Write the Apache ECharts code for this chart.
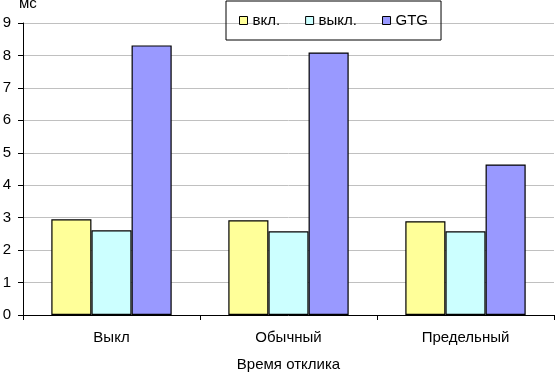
<!DOCTYPE html>
<html><head><meta charset="utf-8">
<script src="https://cdn.jsdelivr.net/npm/echarts@6/dist/echarts.min.js"></script>
<style>html,body{margin:0;padding:0;background:#fff}#c{width:555px;height:374px}</style>
</head><body><div id="c"></div>
<script>
var categories = ['Выкл', 'Обычный', 'Предельный'];
var seriesNames = ['вкл.', 'выкл.', 'GTG'];
var vkl = [2.95, 2.92, 2.89];
var vykl = [2.61, 2.58, 2.58];
var gtg = [8.31, 8.09, 4.64];
var yTicks = [0, 1, 2, 3, 4, 5, 6, 7, 8, 9];
var yUnit = 'мс';
var xTitle = 'Время отклика';

var font = 'Arial, "Liberation Sans", sans-serif';
var colors = ['#FFFF99', '#CCFFFF', '#9999FF'];
var dataSets = [vkl, vykl, gtg];
var el = document.getElementById('c');
var chart = echarts.init(el, null, {renderer: 'canvas'});
chart.setOption({
  animation: false,
  textStyle: {fontFamily: font},
  graphic: [{type: 'text', left: 19, top: -4, style: {text: yUnit, font: '15px ' + font, fill: '#000'}}],
  legend: {
    left: 226, top: 1,
    padding: [12, 13, 12, 13],
    borderColor: '#000', borderWidth: 1,
    icon: 'rect',
    itemWidth: 8, itemHeight: 8, itemGap: 25,
    itemStyle: {borderColor: '#000', borderWidth: 1},
    textStyle: {fontSize: 15, color: '#000', fontFamily: font},
    data: seriesNames
  },
  grid: {left: 23, right: 1, top: 23, height: 292, outerBoundsMode: 'none', containLabel: false},
  xAxis: {
    type: 'category', data: categories,
    axisLine: {lineStyle: {color: '#000', width: 1}},
    axisTick: {show: true, length: 5, lineStyle: {color: '#000'}},
    axisLabel: {color: '#000', fontSize: 15, margin: 15, fontFamily: font},
    name: xTitle, nameLocation: 'middle', nameGap: 42,
    nameTextStyle: {color: '#000', fontSize: 15, fontFamily: font}
  },
  yAxis: {
    type: 'value', min: yTicks[0], max: yTicks[yTicks.length - 1], interval: 1,
    axisLine: {show: true, lineStyle: {color: '#000', width: 1}},
    axisTick: {show: true, length: 5, lineStyle: {color: '#000'}},
    axisLabel: {color: '#000', fontSize: 15, margin: 12, fontFamily: font},
    splitLine: {lineStyle: {color: '#C0C0C0', width: 1}}
  },
  series: seriesNames.map(function (n, i) {
    return {
      name: n, type: 'bar', data: dataSets[i],
      barGap: '0%', barCategoryGap: '32%',
      itemStyle: {color: colors[i], borderColor: '#000', borderWidth: 1.2}
    };
  })
});
</script></body></html>
